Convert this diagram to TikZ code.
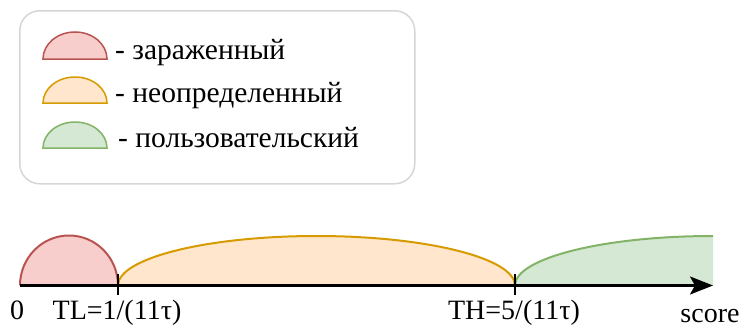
\documentclass[tikz,border=0pt]{standalone}
\usepackage{fontspec}
\setmainfont{Liberation Serif}
\usetikzlibrary{arrows.meta}

\definecolor{redfill}{HTML}{F8CECC}
\definecolor{redline}{HTML}{B85450}
\definecolor{orangefill}{HTML}{FFE6CC}
\definecolor{orangeline}{HTML}{D79B00}
\definecolor{greenfill}{HTML}{D5E8D4}
\definecolor{greenline}{HTML}{82B366}
\definecolor{boxgray}{HTML}{D6D6D6}

\tikzset{
  legendbox/.style={draw=boxgray, line width=1.5pt, rounded corners=20pt,
    minimum width=395pt, minimum height=173pt, inner sep=0pt},
  legendtext/.style={anchor=base west, inner sep=0pt,
    font=\fontsize{29.5}{34}\selectfont},
  axislabel/.style={anchor=base, inner sep=0pt,
    font=\fontsize{28}{33}\selectfont},
  swatch/.style={line width=1.5pt},
  regionline/.style={line width=2pt},
  axisline/.style={line width=2.5pt, -{Stealth[length=23pt, width=18pt, inset=5pt]}},
  tickline/.style={line width=2pt},
}

\begin{document}
\begin{tikzpicture}[x=1pt, y=-1pt]
\useasboundingbox (0,0) rectangle (745,332);

% legend frame
\node[legendbox, anchor=north west] (legend) at (19,10) {};

% legend swatches
\filldraw[swatch, fill=redfill, draw=redline]
  (43,59) arc[start angle=180, end angle=360, x radius=32, y radius=27] -- cycle;
\filldraw[swatch, fill=orangefill, draw=orangeline]
  (43,103) arc[start angle=180, end angle=360, x radius=32, y radius=26] -- cycle;
\filldraw[swatch, fill=greenfill, draw=greenline]
  (43,148) arc[start angle=180, end angle=360, x radius=32, y radius=26] -- cycle;

% legend texts
\node[legendtext] (lred) at (115,59) {- зараженный};
\node[legendtext] (lorange) at (115,102) {- неопределенный};
\node[legendtext] (lgreen) at (118,147) {- пользовательский};

% axis points
\coordinate (o) at (20,285.5);
\coordinate (tl) at (118,285.5);
\coordinate (th) at (515,285.5);
\coordinate (e) at (713,285.5);

% infected region
\fill[redfill] (o) arc[start angle=180, end angle=360, x radius=49, y radius=50] -- cycle;
\draw[regionline, redline] (o) arc[start angle=180, end angle=360, x radius=49, y radius=50];

% undetermined region
\fill[orangefill] (tl) arc[start angle=180, end angle=360, x radius=198.5, y radius=49.5] -- cycle;
\draw[regionline, orangeline] (tl) arc[start angle=180, end angle=360, x radius=198.5, y radius=49.5];

% user region
\fill[greenfill] (th) arc[start angle=180, end angle=270, x radius=198, y radius=49.5] -- (e) -- cycle;
\draw[regionline, greenline] (th) arc[start angle=180, end angle=270, x radius=198, y radius=49.5];

% score axis and thresholds
\draw[axisline] (o) -- (e);
\draw[tickline] ([yshift=-9pt]tl) -- ([yshift=12pt]tl);
\draw[tickline] ([yshift=-9pt]th) -- ([yshift=12pt]th);

% axis labels
\node[axislabel] (zero) at (17,319) {0};
\node[axislabel] (tllabel) at (117,319) {TL=1/(11τ)};
\node[axislabel] (thlabel) at (514,319) {TH=5/(11τ)};
\node[axislabel] (score) at (710,322) {score};
\end{tikzpicture}
\end{document}
